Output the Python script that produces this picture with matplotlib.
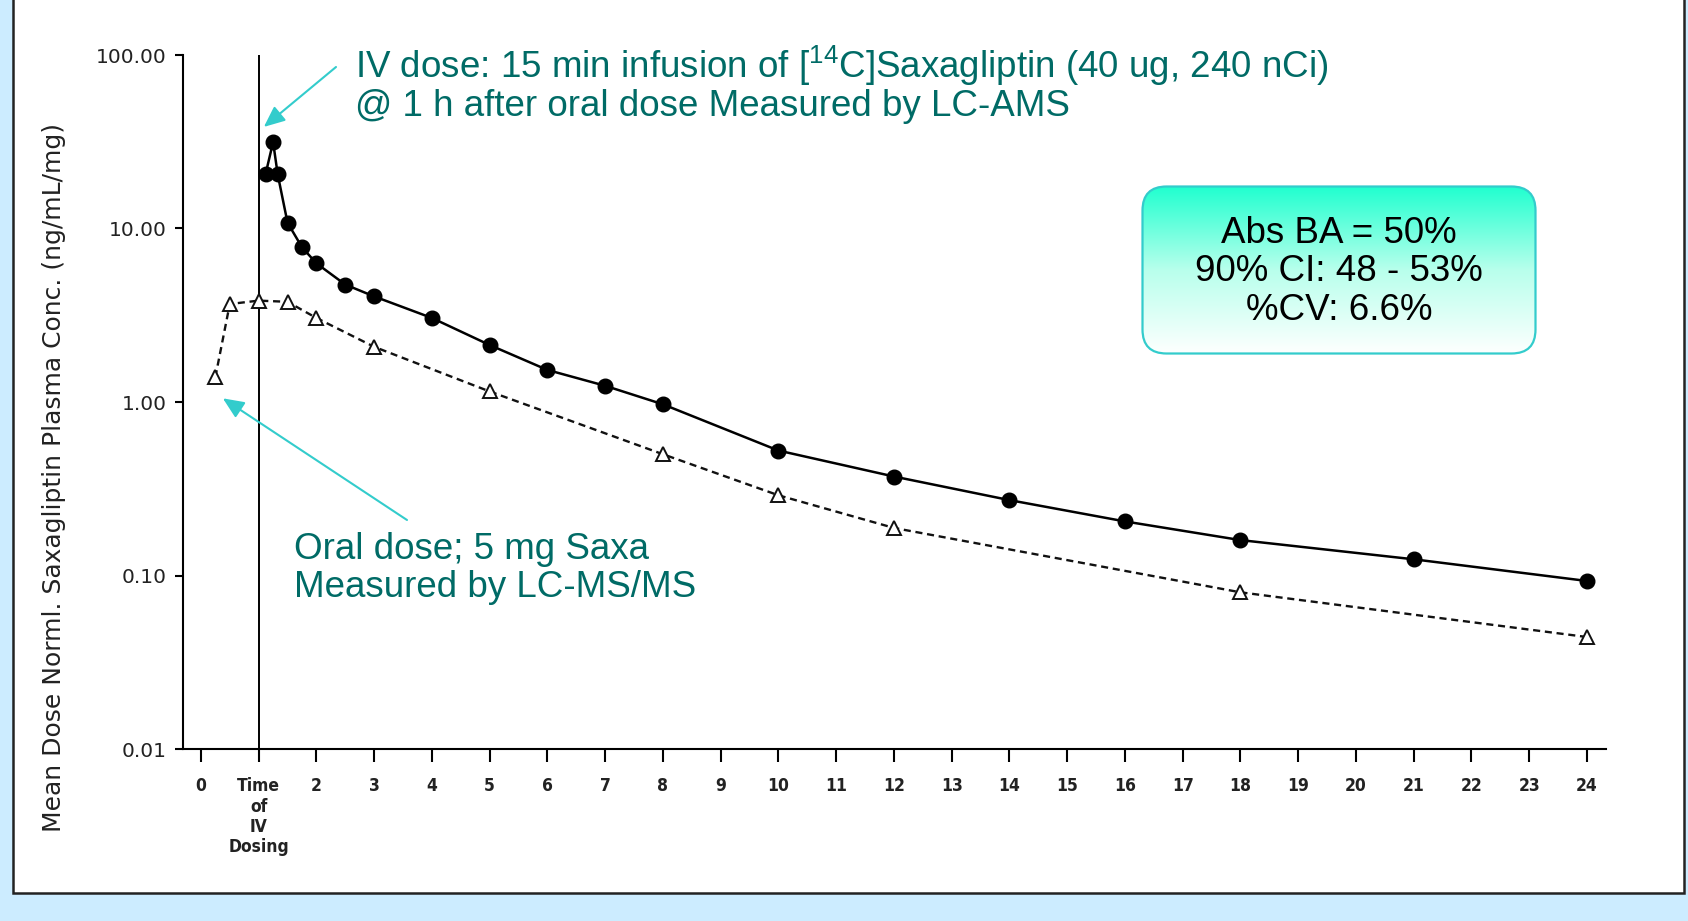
import numpy as np
import matplotlib
matplotlib.use("Agg")
import matplotlib.pyplot as plt
from matplotlib.patches import Rectangle, FancyBboxPatch
from matplotlib.colors import LinearSegmentedColormap
from matplotlib.ticker import FixedLocator, NullLocator

plt.rcParams['mathtext.fontset'] = 'custom'
plt.rcParams['mathtext.rm'] = 'Liberation Sans'

# ---------------- data ----------------
iv_time = [1.12, 1.25, 1.33, 1.5, 1.75, 2, 2.5, 3, 4, 5, 6, 7, 8, 10, 12, 14, 16, 18, 21, 24]
iv_conc = [20.6, 31.5, 20.5, 10.8, 7.8, 6.3, 4.75, 4.06, 3.05, 2.13, 1.53, 1.24, 0.97,
           0.525, 0.372, 0.272, 0.205, 0.160, 0.124, 0.093]

oral_time = [0.25, 0.5, 1, 1.5, 2, 3, 5, 8, 10, 12, 18, 24]
oral_conc = [1.39, 3.67, 3.84, 3.78, 3.05, 2.08, 1.15, 0.50, 0.29, 0.188, 0.080, 0.0442]

x_ticks = list(range(0, 25))
x_ticklabels = ['0', 'Time\nof\nIV\nDosing'] + [str(i) for i in range(2, 25)]
y_ticks = [0.01, 0.1, 1, 10, 100]
y_ticklabels = ['0.01', '0.10', '1.00', '10.00', '100.00']

y_label = 'Mean Dose Norml. Saxagliptin Plasma Conc. (ng/mL/mg)'
iv_note = ['IV dose: 15 min infusion of [$\\mathregular{^{14}}$C]Saxagliptin (40 ug, 240 nCi)',
           '@ 1 h after oral dose Measured by LC-AMS']
oral_note = ['Oral dose; 5 mg Saxa', 'Measured by LC-MS/MS']
box_lines = ['Abs BA = 50%', '90% CI: 48 - 53%', '%CV: 6.6%']

# ---------------- layout helpers ----------------
W, H = 1688, 921
def fx(x):
    return x / W
def fy(y):
    return 1 - y / H

TEAL_TXT = '#006B66'
TEAL_ARR = '#33CCCC'
SANS = 'Liberation Sans'

fig = plt.figure(figsize=(W / 100, H / 100), dpi=100, facecolor='#CCECFF')

panel = Rectangle((fx(13), fy(893)), fx(1684) - fx(13), 1.05 - fy(893),
                  transform=fig.transFigure, facecolor='white',
                  edgecolor='#222222', lw=1.8, zorder=-10)
fig.patches.append(panel)

ax = fig.add_axes([fx(183), fy(749), fx(1606) - fx(183), fy(55) - fy(749)])
ax.patch.set_visible(False)
ax.set_yscale('log')
ax.set_ylim(0.01, 100)
ax.set_xlim(-0.31, 24.33)

for s in ['top', 'right']:
    ax.spines[s].set_visible(False)
for s in ['left', 'bottom']:
    ax.spines[s].set_linewidth(1.5)
    ax.spines[s].set_color('black')

ax.axvline(1, color='black', lw=1.4, zorder=1)

ax.plot(oral_time, oral_conc, color='#111111', lw=1.7, ls=(0, (3, 2)),
        marker='^', ms=10, mfc='white', mec='#111111', mew=1.4, zorder=3)
ax.plot(iv_time, iv_conc, color='black', lw=1.8, ls='-',
        marker='o', ms=10.5, mfc='black', mec='black', zorder=4)

ax.yaxis.set_major_locator(FixedLocator(y_ticks))
ax.yaxis.set_minor_locator(NullLocator())
ax.set_yticklabels(y_ticklabels, fontsize=14.5, family='DejaVu Sans', color='#222222')
ax.set_xticks(x_ticks)
ax.set_xticklabels(x_ticklabels, fontsize=12.5, family='DejaVu Sans',
                   fontstretch='condensed', fontweight='bold', color='#222222',
                   linespacing=1.15, va='top')
ax.tick_params(axis='x', direction='out', length=9.5, width=1.5, pad=11)
ax.tick_params(axis='y', direction='out', length=6, width=1.5, pad=6)

fig.text(fx(54), fy(478), y_label, rotation=90, ha='center', va='center',
         fontsize=18, family='DejaVu Sans', color='#222222')

# annotations
FS = 26.5
fig.text(fx(355), fy(78), iv_note[0], ha='left', va='baseline', fontsize=FS,
         family=SANS, color=TEAL_TXT)
fig.text(fx(355), fy(116), iv_note[1], ha='left', va='baseline', fontsize=FS,
         family=SANS, color=TEAL_TXT)
fig.text(fx(294), fy(559), oral_note[0], ha='left', va='baseline', fontsize=FS,
         family=SANS, color=TEAL_TXT)
fig.text(fx(294), fy(597), oral_note[1], ha='left', va='baseline', fontsize=FS,
         family=SANS, color=TEAL_TXT)

arrow_kw = dict(arrowstyle='-|>,head_length=0.8,head_width=0.35', color=TEAL_ARR,
                lw=1.5, mutation_scale=16, shrinkA=0, shrinkB=0)
ax.annotate('', xy=(1.09, 38.5), xycoords='data', xytext=(fx(336), fy(67)),
            textcoords='figure fraction', arrowprops=arrow_kw)
ax.annotate('', xy=(0.38, 1.05), xycoords='data', xytext=(fx(407), fy(520)),
            textcoords='figure fraction', arrowprops=arrow_kw)

# gradient box
bx0, bx1, by0, by1 = 1141, 1537, 185, 355
bax = fig.add_axes([fx(bx0), fy(by1), fx(bx1) - fx(bx0), fy(by0) - fy(by1)])
bw, bh = bx1 - bx0, by1 - by0
bax.set_xlim(0, bw)
bax.set_ylim(0, bh)
bax.axis('off')
cmap = LinearSegmentedColormap.from_list('g', ['#FFFFFF', '#B8FFEC', '#1EFFCF'])
grad = np.linspace(0, 1, 256).reshape(-1, 1)
im = bax.imshow(grad, extent=[0, bw, 0, bh], origin='lower', aspect='auto', cmap=cmap)
box = FancyBboxPatch((1.5, 1.5), bw - 3, bh - 3, boxstyle='round,pad=0,rounding_size=24',
                     fc='none', ec=TEAL_ARR, lw=1.6, transform=bax.transData)
box.set_clip_on(False)
bax.add_patch(box)
im.set_clip_path(box)

cx = (bx0 + bx1) / 2
for line, base in zip(box_lines, [243, 281, 320]):
    fig.text(fx(cx), fy(base), line, ha='center', va='baseline', fontsize=FS,
             family=SANS, color='black')

fig.savefig('out.png', dpi=100, facecolor=fig.get_facecolor())
